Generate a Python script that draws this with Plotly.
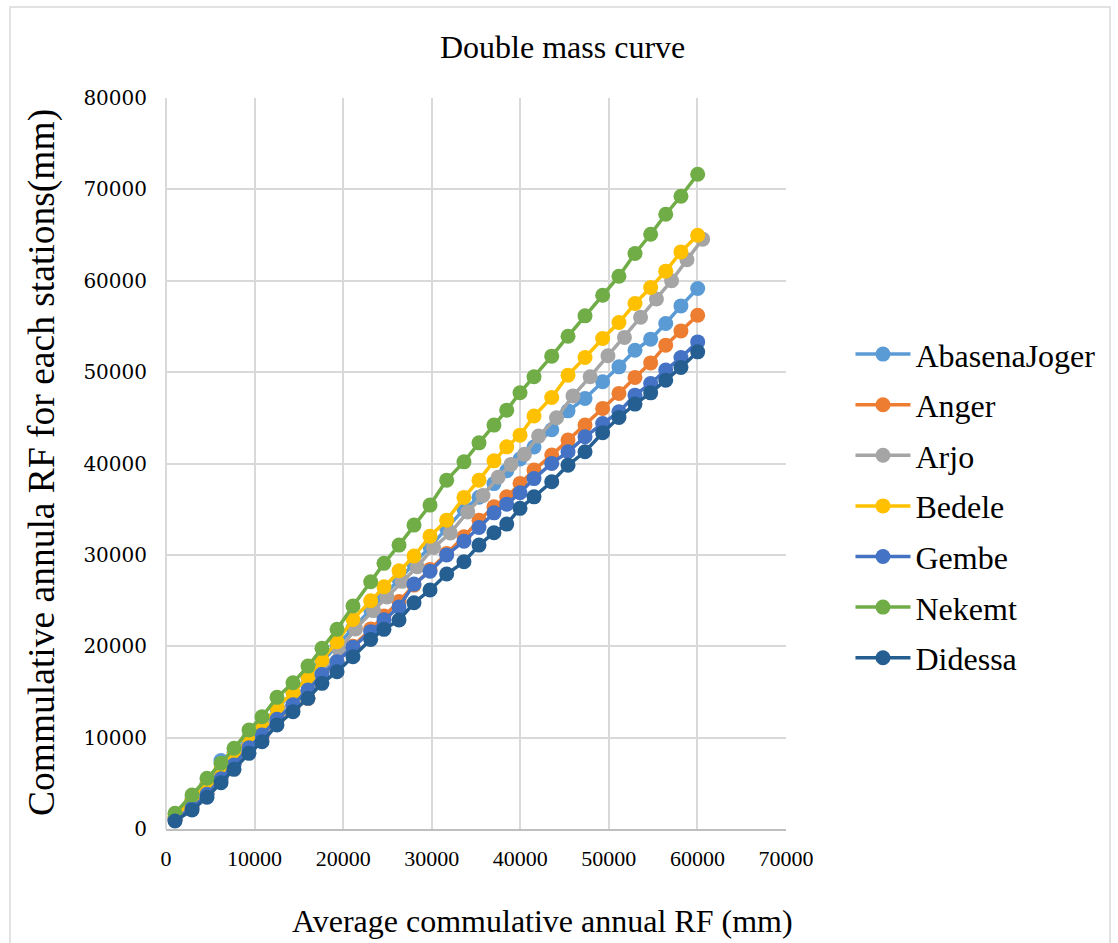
import plotly.graph_objects as go

# Average cumulative annual rainfall (x) for each of the 35 years
x_avg = [1020, 2940, 4630, 6210, 7680, 9370, 10840, 12530, 14340, 16030, 17610, 19310,
         21110, 23110, 24610, 26310, 28000, 29810, 31690, 33640, 35340, 37030, 38470,
         39970, 41550, 43550, 45390, 47310, 49300, 51140, 52950, 54720, 56420, 58140, 60030]
# Arjo is plotted against a slightly different average
x_arjo = [1050, 3000, 4720, 6320, 7810, 9520, 11010, 12720, 14550, 16260, 17860, 19580,
          21400, 23420, 24940, 26660, 28370, 30200, 32100, 34070, 35790, 37500, 38950,
          40470, 42070, 44090, 45950, 47890, 49900, 51760, 53580, 55370, 57080, 58820, 60590]

abasena = [1200, 3300, 5000, 7500, 8400, 10000, 11400, 13200, 14900, 16600, 18300, 20100,
           22000, 24000, 25600, 27300, 29000, 30900, 32900, 35000, 36300, 37800, 39200,
           40500, 41800, 43700, 45760, 47120, 48940, 50580, 52400, 53610, 55320, 57250, 59150]
anger = [1000, 2400, 3900, 5600, 7100, 8800, 10100, 11900, 13300, 14300, 16700, 18300,
         20000, 21900, 23300, 24900, 26690, 28410, 30160, 31980, 33800, 35260, 36350,
         37820, 39280, 40920, 42560, 44200, 46030, 47670, 49420, 51010, 52950, 54510, 56230]
arjo = [1250, 3050, 4700, 6250, 7800, 9500, 10900, 12800, 14300, 16000, 17700, 19600,
        21900, 23900, 25400, 27100, 28700, 30800, 32400, 34700, 36500, 38500, 39900,
        41000, 43000, 45000, 47400, 49500, 51800, 53800, 56000, 58000, 60000, 62300, 64550]
bedele = [1350, 3200, 4900, 6500, 8100, 9900, 11300, 13380, 14900, 16650, 18500, 20500,
          22940, 24980, 26510, 28260, 29870, 32050, 33800, 36290, 38180, 40290, 41820,
          43100, 45200, 47230, 49670, 51600, 53680, 55430, 57510, 59260, 61050, 63160, 64980]
gembe = [1000, 2300, 3800, 5500, 7000, 8900, 10300, 12000, 13600, 15200, 16900, 18300,
         19900, 21600, 22900, 24300, 26800, 28200, 30000, 31500, 33000, 34600, 35550,
         36800, 38350, 40010, 41280, 42920, 44380, 45650, 47480, 48760, 50220, 51600, 53310]
nekemt = [1720, 3720, 5550, 7190, 8830, 10830, 12290, 14410, 16000, 17830, 19770, 21850,
          24400, 27060, 29070, 31070, 33260, 35450, 38180, 40180, 42260, 44200, 45840,
          47750, 49500, 51750, 53930, 56160, 58420, 60500, 62980, 65090, 67280, 69250, 71660]
didessa = [880, 2080, 3470, 5070, 6530, 8280, 9550, 11380, 12830, 14300, 15940, 17210,
           18850, 20750, 21850, 22870, 24760, 26150, 27900, 29240, 31070, 32420, 33370,
           35090, 36350, 38000, 39820, 41280, 43360, 45040, 46500, 47730, 49120, 50510, 52220]

names = ["AbasenaJoger", "Anger", "Arjo", "Bedele", "Gembe", "Nekemt", "Didessa"]
xs = [x_avg, x_avg, x_arjo, x_avg, x_avg, x_avg, x_avg]
ys = [abasena, anger, arjo, bedele, gembe, nekemt, didessa]
colors = ["#5B9BD5", "#ED7D31", "#A5A5A5", "#FFC000", "#4472C4", "#70AD47", "#255E91"]

fig = go.Figure()
for n, xv, yv, c in zip(names, xs, ys, colors):
    fig.add_trace(go.Scatter(
        x=xv, y=yv, name=n, mode="lines+markers", legendgroup=n,
        line=dict(color=c, width=3.5),
        marker=dict(color=c, size=15),
    ))

serif = "Liberation Serif"
grid = "#D9D9D9"

fig.update_layout(
    width=1118, height=943,
    margin=dict(l=166, r=332, t=98, b=114, autoexpand=False),
    paper_bgcolor="white", plot_bgcolor="white",
    font=dict(family=serif, color="black"),
    showlegend=True,
    legend=dict(x=1.104, y=0.687, xanchor="left", yanchor="top",
                font=dict(family=serif, size=32, color="black"),
                tracegroupgap=6, itemwidth=55, bgcolor="rgba(0,0,0,0)"),
    xaxis=dict(range=[0, 70000], dtick=10000, tick0=0, showgrid=True, gridcolor=grid,
               gridwidth=1.5, zeroline=True, zerolinecolor=grid, zerolinewidth=1.5,
               showline=True, linecolor="#BFBFBF", linewidth=1.5, ticks="",
               tickfont=dict(family=serif, size=22), ticklabelstandoff=9,
               tickformat="d", fixedrange=True),
    yaxis=dict(range=[0, 80000], dtick=10000, tick0=0, showgrid=True, gridcolor=grid,
               gridwidth=1.5, zeroline=True, zerolinecolor=grid, zerolinewidth=1.5,
               showline=False, ticks="",
               tickfont=dict(family="DejaVu Serif", size=20), ticklabelstandoff=18,
               tickformat="d", fixedrange=True),
    annotations=[
        dict(text="Double mass curve", x=0.640, y=1.0698, xref="paper", yref="paper",
             showarrow=False, xanchor="center", yanchor="middle",
             font=dict(family=serif, size=32)),
        dict(text="Commulative annula RF for each stations(mm)", x=-0.2, y=0.5007,
             xref="paper", yref="paper", showarrow=False, textangle=-90,
             xanchor="center", yanchor="middle", font=dict(family=serif, size=37.5)),
        dict(text="Average commulative annual RF (mm)", x=0.608, y=-0.1259,
             xref="paper", yref="paper", showarrow=False, xanchor="center",
             yanchor="middle", font=dict(family=serif, size=32)),
    ],
    shapes=[
        dict(type="rect", xref="paper", yref="paper", x0=-0.2516, x1=1.5226,
             y0=-0.25, y1=1.1245, line=dict(color="#D9D9D9", width=1.5),
             fillcolor="rgba(0,0,0,0)", layer="below"),
    ],
)

fig.write_html("out.html")
